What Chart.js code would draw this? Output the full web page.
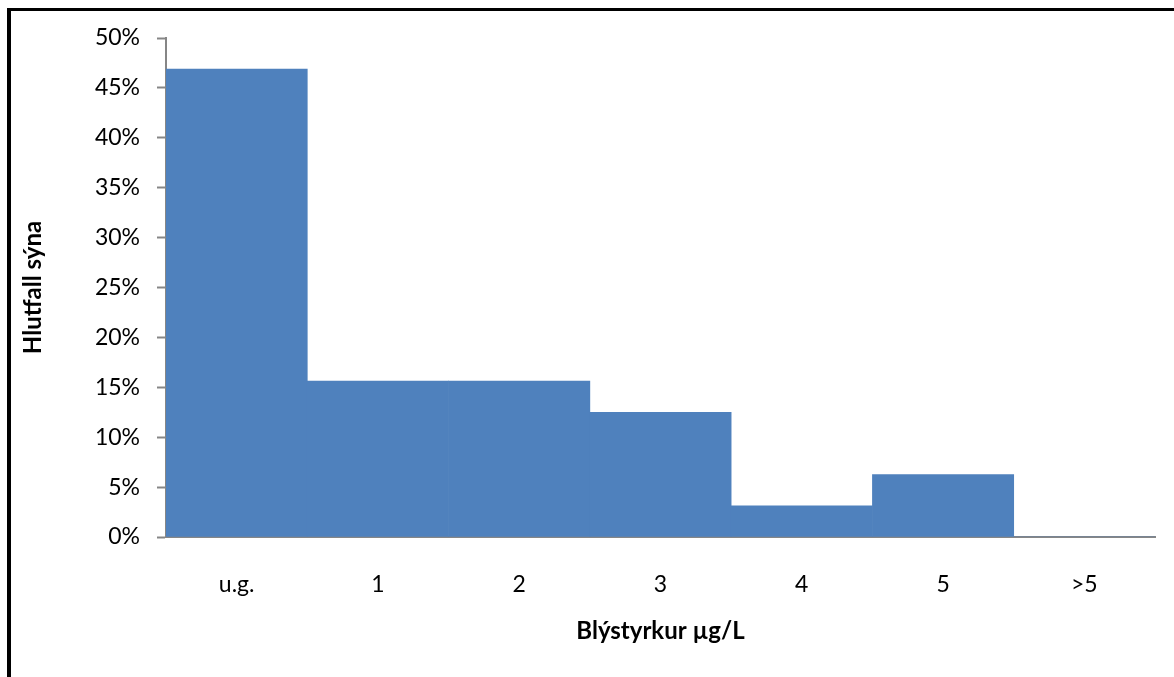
<!DOCTYPE html>
<html>
<head>
<meta charset="utf-8">
<script src="https://cdn.jsdelivr.net/npm/chart.js@4"></script>
<style>
  html, body { margin: 0; padding: 0; background: #ffffff; }
  #wrap { position: relative; width: 1174px; height: 677px; }
</style>
</head>
<body>
<div id="wrap"><canvas id="chart" width="1174" height="677"></canvas></div>
<script>
// Lead concentration classes and share of samples in each class
const categories = ['u.g.', '1', '2', '3', '4', '5', '>5'];
const shareOfSamples = [0.46875, 0.15625, 0.15625, 0.125, 0.03125, 0.0625, 0];
const yTickStep = 0.05;
const yMax = 0.5;
const xTitle = 'Blýstyrkur µg/L';
const yTitle = 'Hlutfall sýna';

const FONT = "Lato, 'Open Sans', sans-serif";
const AXIS_GRAY = '#868686';

// White background plus the heavy frame on the top and left edges
const framePlugin = {
  id: 'frame',
  beforeDraw(chart) {
    const ctx = chart.ctx;
    ctx.save();
    ctx.fillStyle = '#ffffff';
    ctx.fillRect(0, 0, chart.width, chart.height);
    ctx.fillStyle = '#000000';
    ctx.fillRect(7, 8, chart.width - 7, 3);
    ctx.fillRect(7, 8, 4, chart.height - 8);
    ctx.restore();
  }
};

new Chart(document.getElementById('chart'), {
  type: 'bar',
  data: {
    labels: categories,
    datasets: [{
      data: shareOfSamples,
      backgroundColor: '#4F81BD',
      borderWidth: 0,
      categoryPercentage: 1.0,
      barPercentage: 1.0
    }]
  },
  options: {
    responsive: false,
    animation: false,
    devicePixelRatio: 1,
    layout: { padding: { top: 38, right: 19, bottom: 0, left: 0 } },
    plugins: { legend: { display: false }, tooltip: { enabled: false } },
    scales: {
      x: {
        grid: { display: true, drawOnChartArea: false, drawTicks: false },
        border: { display: true, color: AXIS_GRAY, width: 2 },
        ticks: { color: '#000000', padding: 34, font: { family: FONT, size: 23 } },
        title: {
          display: true, text: xTitle, color: '#000000',
          font: { family: FONT, size: 24, weight: 'bold' },
          padding: { top: 0, bottom: 31 }
        },
        afterFit(scale) { scale.height = 677 - 537; }
      },
      y: {
        min: 0, max: yMax,
        grid: { display: true, drawOnChartArea: false, drawTicks: true, tickLength: 9, tickColor: AXIS_GRAY, tickWidth: 2 },
        border: { display: true, color: AXIS_GRAY, width: 2 },
        ticks: {
          stepSize: yTickStep, color: '#000000', padding: 17,
          font: { family: FONT, size: 23 },
          callback: v => Math.round(v * 100) + '%'
        },
        title: {
          display: true, text: yTitle, color: '#000000',
          font: { family: FONT, size: 24, weight: 'bold' },
          padding: { top: 19, bottom: 0 }
        },
        afterFit(scale) { scale.width = 166; }
      }
    }
  },
  plugins: [framePlugin]
});
</script>
</body>
</html>
